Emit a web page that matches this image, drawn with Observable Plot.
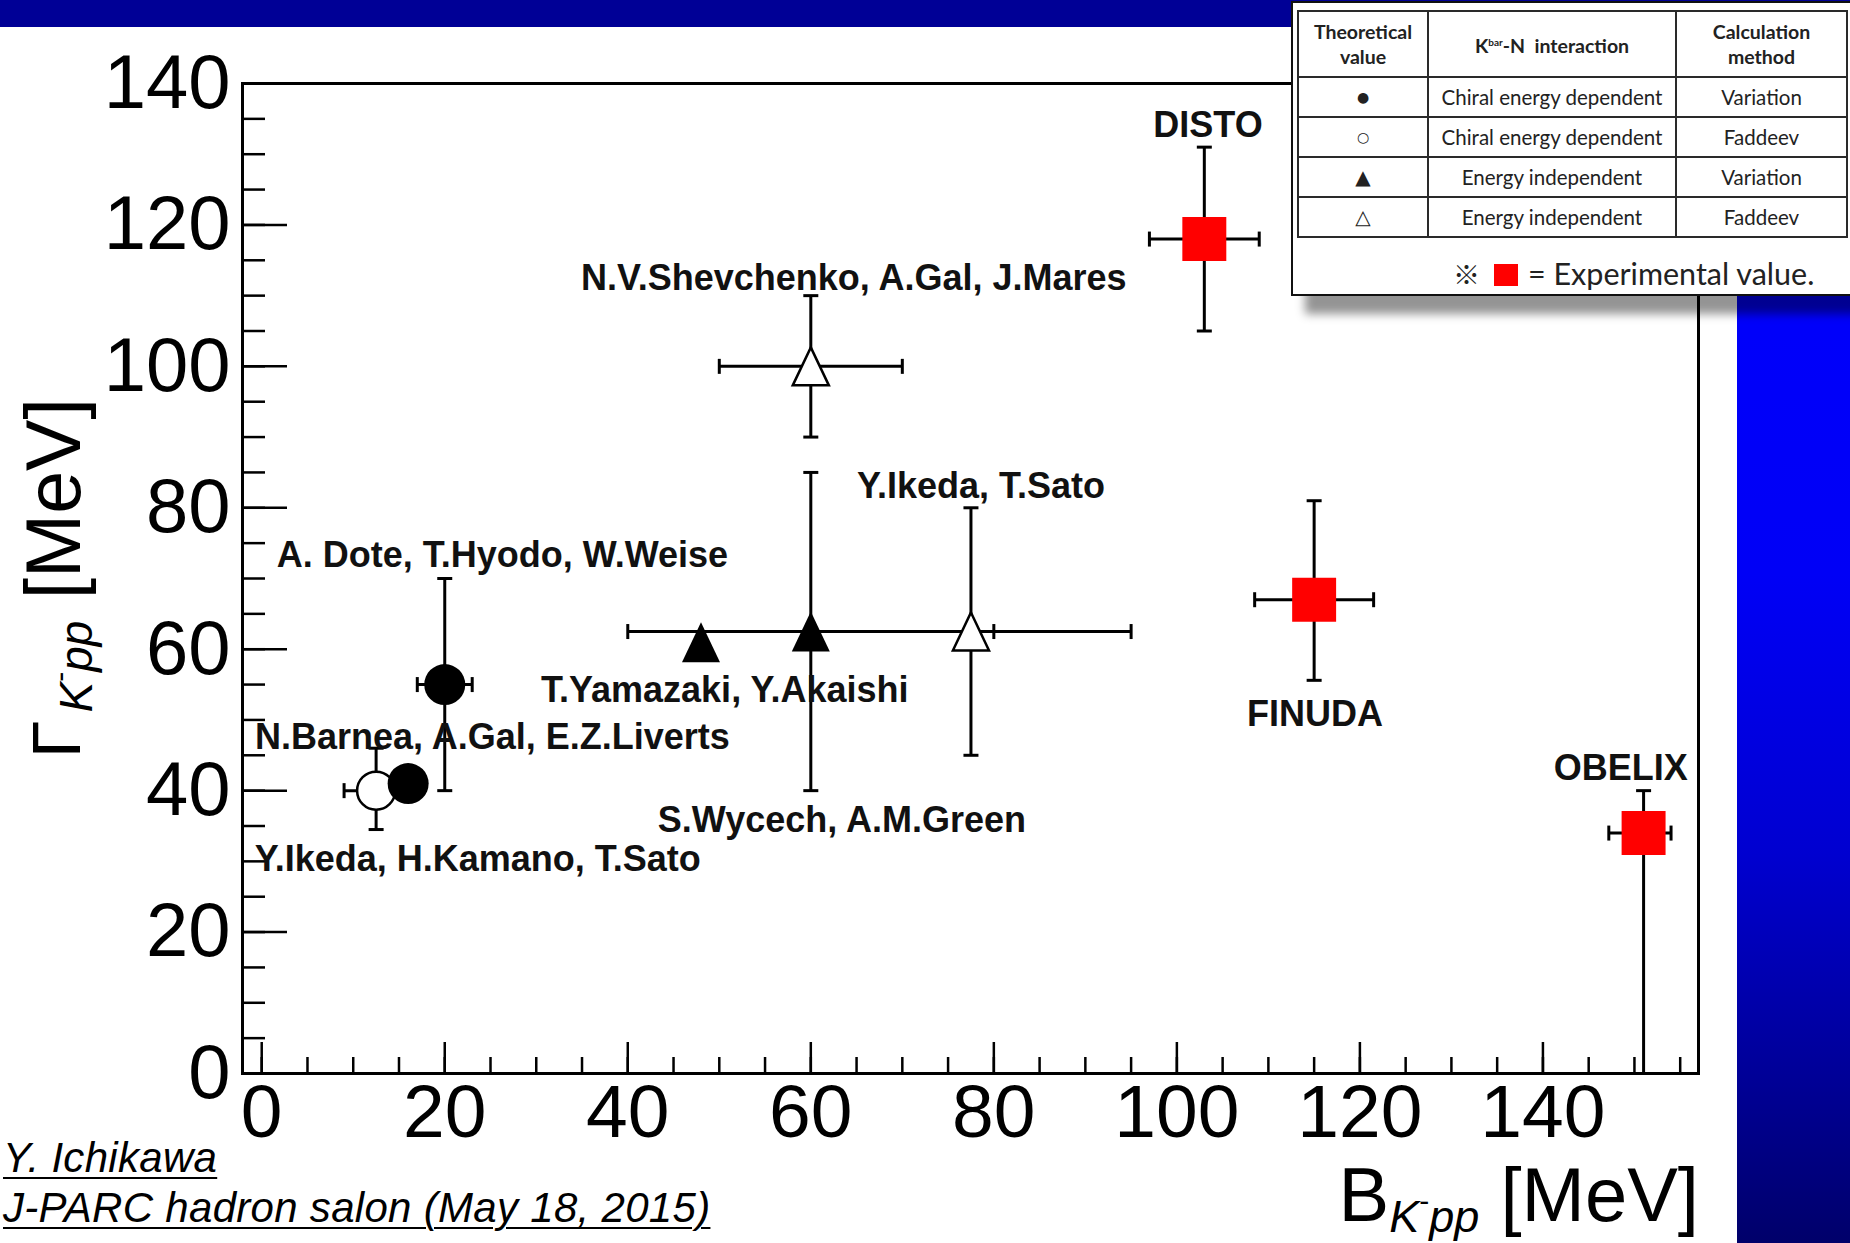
<!DOCTYPE html>
<html>
<head>
<meta charset="utf-8">
<script src="https://cdn.jsdelivr.net/npm/d3@7"></script>
<script src="https://cdn.jsdelivr.net/npm/@observablehq/plot@0.6"></script>
<style>
  html, body { margin: 0; padding: 0; background: #ffffff; }
  body { position: relative; width: 1850px; height: 1243px; overflow: hidden; }
  #topbar { position: absolute; left: 0; top: 0; width: 1850px; height: 27px; background: #000096; }
  #sidepanel { position: absolute; left: 1737px; top: 27px; width: 113px; height: 1216px;
    background: linear-gradient(to bottom, #0000ff 0%, #0000f6 45%, #0000d0 68%, #000098 86%, #00006a 100%); }
  #chart { position: absolute; left: 0; top: 0; }
  #legend { position: absolute; left: 1291px; top: 1px; width: 562px; height: 295px; box-sizing: border-box;
    background: #fff; border: 2px solid #111; box-shadow: 14px 18px 9px rgba(0,0,0,0.42);
    font-family: Lato, "Open Sans", sans-serif; color: #222; }
  #legend table { position: absolute; left: 4px; top: 7px; border-collapse: collapse; table-layout: fixed; width: 549px; }
  #legend td, #legend th { border: 2px solid #2a2a2a; text-align: center; padding: 0; white-space: nowrap; }
  #legend th { font-weight: 700; font-size: 19.5px; line-height: 25px; height: 64px; }
  #legend td { font-size: 20.5px; height: 38px; }
  #legend td.sym { font-family: "DejaVu Sans", sans-serif; }
  #legend sup { font-size: 10px; vertical-align: 7px; }
  #exp { position: absolute; left: 160px; top: 253px; font-size: 30.5px; line-height: 34px; white-space: nowrap; color: #222; }
  #exp .sq { display: inline-block; width: 24px; height: 22px; background: #ff0000; vertical-align: -1px; margin: 0 10px 0 14px; }
  #exp .kome { font-family: "Noto Sans CJK JP", sans-serif; font-size: 27px; }
  .cap { position: absolute; left: 3px; font-family: "Liberation Sans", Arial, sans-serif; font-style: italic;
    font-size: 42px; line-height: 42px; letter-spacing: 0.3px; color: #000; text-decoration: underline;
    text-decoration-thickness: 2px; text-underline-offset: 5px; white-space: nowrap; }
</style>
</head>
<body>
<div id="topbar"></div>
<div id="sidepanel"></div>
<div id="chart"></div>
<div id="legend"></div>
<div class="cap" id="cap1"></div>
<div class="cap" id="cap2"></div>
<script>
// ---------------- data ----------------
// Theoretical values (B = binding energy, Gamma = width), MeV
const theoryNames = ["Y.Ikeda, H.Kamano, T.Sato", "A. Dote, T.Hyodo, W.Weise", "N.Barnea, A.Gal, E.Z.Liverts",
  "T.Yamazaki, Y.Akaishi", "S.Wycech, A.M.Green", "Y.Ikeda, T.Sato", "N.V.Shevchenko, A.Gal, J.Mares"];
const theoryKind = ["chiralFaddeev", "chiralVariation", "chiralVariation",
  "indepVariation", "indepVariation", "indepFaddeev", "indepFaddeev"];
const theoryB = [12.5, 20, 16, 48, 60, 77.5, 60];
const theoryBLow = [9, 17, null, null, 40, 60, 50];
const theoryBHigh = [16, 23, null, null, 80, 95, 70];
const theoryGamma = [40, 55, 41, 61, 62.5, 62.5, 100];
const theoryGammaLow = [34.5, 40, null, null, 40, 45, 90];
const theoryGammaHigh = [46, 70, null, null, 85, 80, 110];

// Experimental values
const expNames = ["DISTO", "FINUDA", "OBELIX"];
const expB = [103, 115, 151];
const expBLow = [97, 108.5, 147.2];
const expBHigh = [109, 121.5, 154];
const expGamma = [118, 67, 34];
const expGammaLow = [105, 55.6, 0];
const expGammaHigh = [131, 81, 40];

// Label anchors (data units)
const labelTexts = ["DISTO", "N.V.Shevchenko, A.Gal, J.Mares", "Y.Ikeda, T.Sato", "A. Dote, T.Hyodo, W.Weise",
  "T.Yamazaki, Y.Akaishi", "N.Barnea, A.Gal, E.Z.Liverts", "S.Wycech, A.M.Green", "Y.Ikeda, H.Kamano, T.Sato",
  "FINUDA", "OBELIX"];
const labelB = [103.4, 64.7, 78.6, 26.3, 50.6, 25.2, 63.4, 23.6, 115.1, 148.5];
const labelGamma = [134.1, 112.4, 83.0, 73.3, 54.2, 47.5, 35.8, 30.2, 50.8, 43.1];

// Axis tick labels
const xTickLabels = [0, 20, 40, 60, 80, 100, 120, 140];
const yTickLabels = [0, 20, 40, 60, 80, 100, 120, 140];

// Legend table
const legendSymbols = ["●", "○", "▲", "△"];
const legendInteraction = ["Chiral energy dependent", "Chiral energy dependent", "Energy independent", "Energy independent"];
const legendMethod = ["Variation", "Faddeev", "Variation", "Faddeev"];

const captionLines = ["Y. Ichikawa", "J-PARC hadron salon (May 18, 2015)"];

// ---------------- build ----------------
const FONT = "'Liberation Sans', Arial, Helvetica, sans-serif";
const W = 1850, H = 1243, ML = 242, MR = 152, MT = 83, MB = 170;
const frameW = W - ML - MR, frameH = H - MT - MB;

const theory = theoryNames.map((name, i) => ({
  name, kind: theoryKind[i], B: theoryB[i], Blo: theoryBLow[i], Bhi: theoryBHigh[i],
  G: theoryGamma[i], Glo: theoryGammaLow[i], Ghi: theoryGammaHigh[i]
}));
const exps = expNames.map((name, i) => ({
  name, kind: "exp", B: expB[i], Blo: expBLow[i], Bhi: expBHigh[i],
  G: expGamma[i], Glo: expGammaLow[i], Ghi: expGammaHigh[i]
}));
const all = [...theory, ...exps];
const vBars = all.filter(d => d.Glo != null);
const hBars = all.filter(d => d.Blo != null);
const vCaps = vBars.flatMap(d => [{x: d.B, y: d.Glo}, {x: d.B, y: d.Ghi}]).filter(d => d.y > 0);
const hCaps = hBars.flatMap(d => [{x: d.Blo, y: d.G}, {x: d.Bhi, y: d.G}]);
const labels = labelTexts.map((t, i) => ({t, x: labelB[i], y: labelGamma[i]}));

const hcap = {draw(ctx, size) { const h = Math.sqrt(size / Math.PI); ctx.moveTo(-h, 0); ctx.lineTo(h, 0); }};
const vcap = {draw(ctx, size) { const h = Math.sqrt(size / Math.PI); ctx.moveTo(0, -h); ctx.lineTo(0, h); }};
const triUp = {draw(ctx, size) { const r = Math.sqrt(size / Math.PI); ctx.moveTo(0, -r); ctx.lineTo(0.95 * r, r); ctx.lineTo(-0.95 * r, r); ctx.closePath(); }};

const xMinor = d3.range(0, 156, 5);
const yMinor = d3.range(0, 140, 5);

const chart = Plot.plot({
  width: W, height: H,
  marginLeft: ML, marginRight: MR, marginTop: MT, marginBottom: MB,
  x: {domain: [-2.1, 157]},
  y: {domain: [0, 140]},
  style: {background: "transparent", fontFamily: FONT, color: "black"},
  marks: [
    // ticks (inside the frame)
    Plot.ruleY(yMinor, {y: d => d, insetRight: frameW - 23, stroke: "black", strokeWidth: 2.5}),
    Plot.ruleY(yTickLabels, {y: d => d, insetRight: frameW - 45, stroke: "black", strokeWidth: 2.5}),
    Plot.ruleX(xMinor, {x: d => d, insetTop: frameH - 16, stroke: "black", strokeWidth: 2.5}),
    Plot.ruleX(xTickLabels, {x: d => d, insetTop: frameH - 31, stroke: "black", strokeWidth: 2.5}),
    // tick labels
    Plot.axisX(xTickLabels, {anchor: "bottom", tickSize: 0, tickPadding: 10, fontSize: 75, fill: "black", label: null}),
    Plot.axisY(yTickLabels, {anchor: "left", tickSize: 0, tickPadding: 12, fontSize: 76, fill: "black", label: null}),
    // error bars
    Plot.ruleX(vBars, {x: "B", y1: "Glo", y2: "Ghi", stroke: "black", strokeWidth: 3}),
    Plot.ruleY(hBars, {y: "G", x1: "Blo", x2: "Bhi", stroke: "black", strokeWidth: 3}),
    Plot.dot(vCaps, {x: "x", y: "y", symbol: hcap, r: 7.5, fill: "none", stroke: "black", strokeWidth: 3}),
    Plot.dot(hCaps, {x: "x", y: "y", symbol: vcap, r: 7.5, fill: "none", stroke: "black", strokeWidth: 3}),
    // markers
    Plot.dot(all.filter(d => d.kind === "chiralFaddeev"), {x: "B", y: "G", r: 19, fill: "white", stroke: "black", strokeWidth: 2.5}),
    Plot.dot(all.filter(d => d.kind === "chiralVariation"), {x: "B", y: "G", r: 20.5, fill: "black"}),
    Plot.dot(all.filter(d => d.kind === "indepVariation"), {x: "B", y: "G", symbol: triUp, r: 20, fill: "black"}),
    Plot.dot(all.filter(d => d.kind === "indepFaddeev"), {x: "B", y: "G", symbol: triUp, r: 19, fill: "white", stroke: "black", strokeWidth: 2.5}),
    Plot.dot(all.filter(d => d.kind === "exp"), {x: "B", y: "G", symbol: "square", r: 24.8, fill: "#ff0000"}),
    // labels
    Plot.text(labels, {x: "x", y: "y", text: "t", fontSize: 36, fontWeight: "bold", fill: "#111", textAnchor: "middle", lineAnchor: "middle"}),
    // frame
    Plot.frame({stroke: "black", strokeWidth: 3})
  ]
});
document.getElementById("chart").appendChild(chart);

// axis titles with subscripts
const svg = d3.select(chart);
const xt = svg.append("text").attr("x", 1699).attr("y", 1221).attr("text-anchor", "end")
  .attr("font-family", FONT).attr("font-size", 76).attr("fill", "black").style("white-space", "pre");
xt.append("tspan").text("B");
xt.append("tspan").attr("font-size", 45).attr("font-style", "italic").attr("dy", 11).text("K");
xt.append("tspan").attr("font-size", 30).attr("dy", -21).text("-");
xt.append("tspan").attr("font-size", 45).attr("font-style", "italic").attr("dy", 21).text("pp");
xt.append("tspan").attr("dy", -11).text(" [MeV]");

const yt = svg.append("text").attr("transform", "translate(80,758) rotate(-90)").attr("text-anchor", "start")
  .attr("font-family", FONT).attr("font-size", 77).attr("fill", "black").style("white-space", "pre");
yt.append("tspan").attr("font-size", 68).text("Γ");
yt.append("tspan").attr("font-size", 46).attr("font-style", "italic").attr("dy", 12).attr("dx", 8).text("K");
yt.append("tspan").attr("font-size", 30).attr("dy", -22).text("-");
yt.append("tspan").attr("font-size", 46).attr("font-style", "italic").attr("dy", 22).text("pp");
yt.append("tspan").attr("dy", -12).text(" [MeV]");

// legend
const legend = d3.select("#legend");
const table = legend.append("table");
const cg = table.append("colgroup");
[130, 248, 171].forEach(w => cg.append("col").style("width", w + "px"));
const hdr = table.append("tr");
hdr.append("th").html("Theoretical<br>value");
hdr.append("th").html("K<sup>bar</sup>-N&nbsp; interaction");
hdr.append("th").html("Calculation<br>method");
legendSymbols.forEach((s, i) => {
  const tr = table.append("tr");
  tr.append("td").attr("class", "sym").style("font-size", i < 2 ? "14px" : "20px").text(s);
  tr.append("td").text(legendInteraction[i]);
  tr.append("td").text(legendMethod[i]);
});
const exp = legend.append("div").attr("id", "exp");
exp.append("span").attr("class", "kome").text("※");
exp.append("span").attr("class", "sq");
exp.append("span").text("= Experimental value.");

// caption
d3.select("#cap1").style("top", "1137px").text(captionLines[0]);
d3.select("#cap2").style("top", "1187px").text(captionLines[1]);
</script>
</body>
</html>
